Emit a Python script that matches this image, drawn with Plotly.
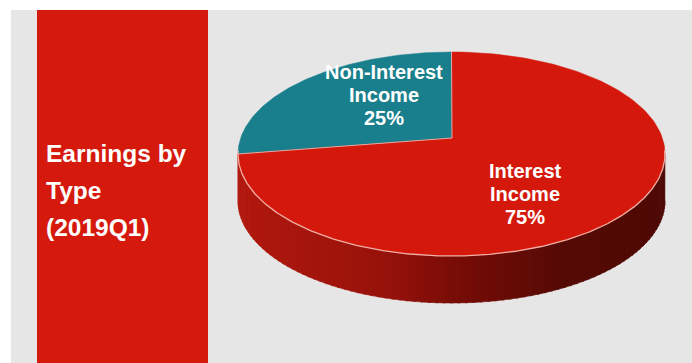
import numpy as np
import plotly.graph_objects as go

# ---- data ----
categories = ["Non-Interest Income", "Interest Income"]
shares = [25, 75]
title_lines = ["Earnings by", "Type", "(2019Q1)"]

# ---- layout / style constants (pixel units, y grows downward) ----
W, H = 692, 363
CX, CY = 451.5, 154.0        # centre of the top ellipse
RX, RY = 213.5, 102.0        # radii of the top ellipse
APEX = (452.0, 138.0)        # projected pie centre
DEPTH = 47                   # thickness of the disc
START_DEG = -90              # first slice starts at 12 o'clock
SLICE_COLORS = ["#1A7F8C", "#D4190C"]
LABEL_POS = [(384, 95), (525, 194)]
LABEL_LINE_GAP = 23
FONT = "Liberation Sans, Arial, Helvetica, sans-serif"


def rim(th_deg):
    th = np.radians(th_deg)
    return CX + RX * np.cos(th), CY + RY * np.sin(th)


def side_color(x):
    t = (x - (CX - RX)) / (2 * RX)
    stops = [(0.0, (178, 24, 14)), (0.35, (150, 18, 10)), (0.52, (118, 12, 6)),
             (0.75, (86, 10, 5)), (1.0, (78, 9, 4))]
    for (t0, c0), (t1, c1) in zip(stops[:-1], stops[1:]):
        if t <= t1:
            f = (t - t0) / (t1 - t0)
            c = [round(a + (b - a) * f) for a, b in zip(c0, c1)]
            return "rgb(%d,%d,%d)" % tuple(c)
    return "rgb(%d,%d,%d)" % stops[-1][1]


fig = go.Figure()

# ---- visible front wall of the disc, shaded in thin strips ----
n_strips = 90
edges = np.linspace(0, 180, n_strips + 1)
for a0, a1 in zip(edges[:-1], edges[1:]):
    th = np.linspace(a0 - 0.3, a1 + 0.3, 6)
    xs, ys = rim(th)
    px = np.concatenate([xs, xs[::-1]])
    py = np.concatenate([ys, ys[::-1] + DEPTH])
    col = side_color(xs.mean())
    fig.add_trace(go.Scatter(x=px, y=py, mode="lines", fill="toself",
                             fillcolor=col, line=dict(color=col, width=0.6),
                             hoverinfo="skip", showlegend=False))

# ---- top face slices ----
total = sum(shares)
angle = START_DEG
bounds = []
for share, col in zip(shares, SLICE_COLORS):
    sweep = 360.0 * share / total
    th = np.linspace(angle, angle - sweep, 200)
    xs, ys = rim(th)
    px = np.concatenate([[APEX[0]], xs, [APEX[0]]])
    py = np.concatenate([[APEX[1]], ys, [APEX[1]]])
    fig.add_trace(go.Scatter(x=px, y=py, mode="lines", fill="toself",
                             fillcolor=col, line=dict(color=col, width=0.5),
                             hoverinfo="skip", showlegend=False))
    bounds.append(angle)
    angle -= sweep

# light seams between slices
for b in bounds:
    bx, by = rim(b)
    fig.add_trace(go.Scatter(x=[APEX[0], bx], y=[APEX[1], by], mode="lines",
                             line=dict(color="rgba(235,200,195,0.8)", width=1),
                             hoverinfo="skip", showlegend=False))

# light highlight along the front rim
th = np.linspace(-2, 182, 300)
xs, ys = rim(th)
fig.add_trace(go.Scatter(x=xs, y=ys, mode="lines",
                         line=dict(color="rgba(245,190,180,0.9)", width=1.3),
                         hoverinfo="skip", showlegend=False))

# ---- slice labels ----
annotations = []
for cat, share, (lx, ly) in zip(categories, shares, LABEL_POS):
    lines = cat.split(" ") + ["%d%%" % round(100 * share / total)]
    n = len(lines)
    for i, txt in enumerate(lines):
        annotations.append(dict(x=lx, y=ly + (i - (n - 1) / 2) * LABEL_LINE_GAP,
                                xref="x", yref="y", text=txt, showarrow=False,
                                xanchor="center", yanchor="middle",
                                font=dict(family=FONT, size=20, color="white",
                                          weight="bold")))

# ---- side title ----
for i, txt in enumerate(title_lines):
    annotations.append(dict(x=44, y=153 + i * 37, xref="x", yref="y", text=txt,
                            showarrow=False, xanchor="left", yanchor="middle",
                            font=dict(family=FONT, size=24.5, color="white",
                                      weight="bold")))

shapes = [
    dict(type="rect", xref="x", yref="y", x0=11, x1=W, y0=10, y1=H,
         fillcolor="#E6E6E6", line=dict(width=0), layer="below"),
    dict(type="rect", xref="x", yref="y", x0=37, x1=208, y0=10, y1=H,
         fillcolor="#D51A0D", line=dict(width=0), layer="below"),
]

fig.update_layout(
    width=W, height=H,
    margin=dict(l=0, r=0, t=0, b=0),
    paper_bgcolor="white", plot_bgcolor="white",
    xaxis=dict(range=[0, W], visible=False, fixedrange=True),
    yaxis=dict(range=[H, 0], visible=False, fixedrange=True),
    shapes=shapes, annotations=annotations,
    showlegend=False,
)

fig.write_html("out.html", config={"displayModeBar": False})
